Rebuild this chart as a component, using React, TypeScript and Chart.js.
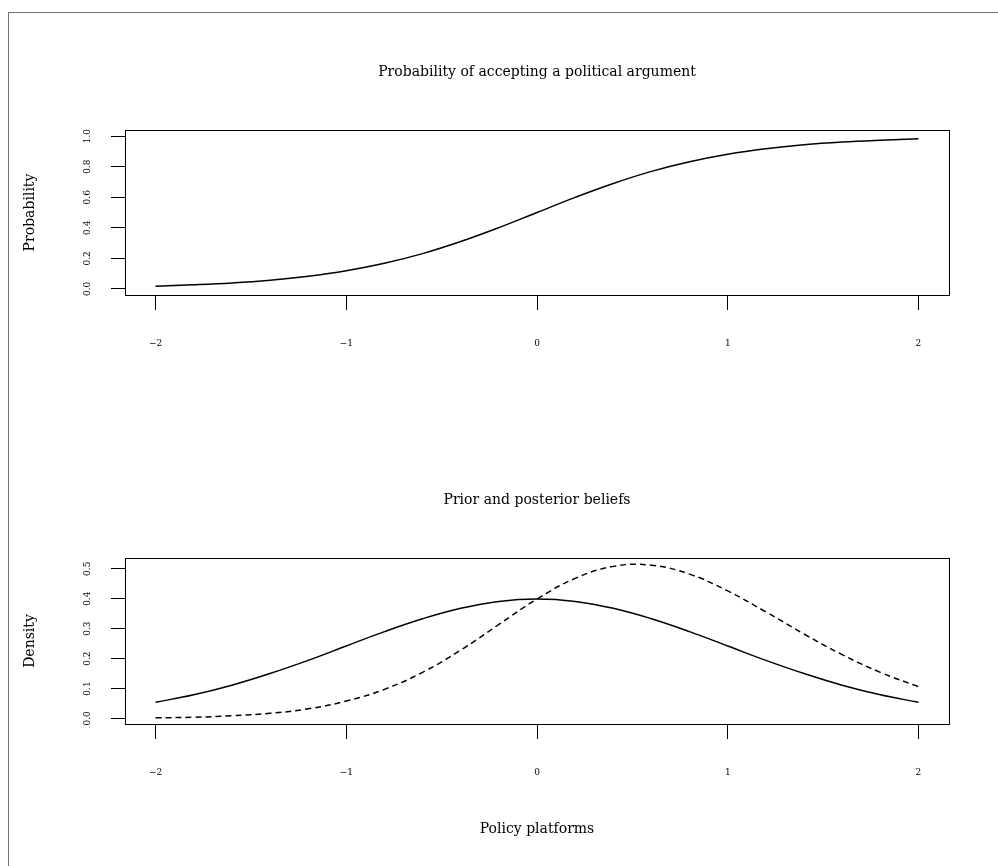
import React, { useEffect, useRef } from 'react';
import { Chart, registerables } from 'chart.js';

Chart.register(...registerables);

// ---- data ----
const xGrid = [-2, -1.8, -1.6, -1.4, -1.2, -1, -0.8, -0.6, -0.4, -0.2, 0, 0.2, 0.4, 0.6, 0.8, 1, 1.2, 1.4, 1.6, 1.8, 2];
const acceptProb = [0.018, 0.027, 0.039, 0.057, 0.083, 0.119, 0.168, 0.231, 0.31, 0.401, 0.5, 0.599, 0.69, 0.769, 0.832, 0.881, 0.917, 0.943, 0.961, 0.973, 0.982];
const priorDensity = [0.054, 0.079, 0.111, 0.15, 0.194, 0.242, 0.29, 0.333, 0.368, 0.391, 0.399, 0.391, 0.368, 0.333, 0.29, 0.242, 0.194, 0.15, 0.111, 0.079, 0.054];
const posteriorDensity = [0.002, 0.004, 0.009, 0.017, 0.032, 0.058, 0.097, 0.154, 0.228, 0.314, 0.399, 0.468, 0.508, 0.512, 0.482, 0.426, 0.356, 0.282, 0.213, 0.154, 0.106];

const xTicks = [-2, -1, 0, 1, 2];
const xTickLabels = ['\u22122', '\u22121', '0', '1', '2'];
const probTicks = [0, 0.2, 0.4, 0.6, 0.8, 1.0];
const probTickLabels = ['0.0', '0.2', '0.4', '0.6', '0.8', '1.0'];
const densTicks = [0, 0.1, 0.2, 0.3, 0.4, 0.5];
const densTickLabels = ['0.0', '0.1', '0.2', '0.3', '0.4', '0.5'];

const topTitle = 'Probability of accepting a political argument';
const topYLabel = 'Probability';
const bottomTitle = 'Prior and posterior beliefs';
const bottomYLabel = 'Density';
const bottomXLabel = 'Policy platforms';

const FONT = '"DejaVu Serif", serif';

const decor = {
  id: 'decor',
  afterDraw(chart: any, _args: any, opts: any) {
    const { ctx, chartArea: a, scales } = chart;
    ctx.save();
    ctx.strokeStyle = '#000';
    ctx.lineWidth = 1;
    ctx.strokeRect(Math.round(a.left) + 0.5, Math.round(a.top) + 0.5, Math.round(a.right - a.left), Math.round(a.bottom - a.top));
    ctx.fillStyle = '#000';
    ctx.textAlign = 'center';
    ctx.textBaseline = 'alphabetic';
    ctx.font = '9px ' + FONT;
    (opts.yTicks as number[]).forEach((v, i) => {
      const y = scales.y.getPixelForValue(v);
      ctx.save();
      ctx.translate(opts.yTickX, y);
      ctx.rotate(-Math.PI / 2);
      ctx.fillText(opts.yTickLabels[i], 0, 0);
      ctx.restore();
    });
    const cx = (a.left + a.right) / 2;
    const cy = (a.top + a.bottom) / 2;
    ctx.font = '14px ' + FONT;
    ctx.fillText(opts.title, cx, opts.titleY);
    ctx.save();
    ctx.translate(opts.yLabelX, cy);
    ctx.rotate(-Math.PI / 2);
    ctx.fillText(opts.yLabel, 0, 0);
    ctx.restore();
    if (opts.xLabel) ctx.fillText(opts.xLabel, cx, opts.xLabelY);
    ctx.restore();
  },
};

function makeConfig(p: any): any {
  return {
    type: 'line',
    data: {
      datasets: p.series.map((s: any) => ({
        data: xGrid.map((x, i) => ({ x, y: s.values[i] })),
        borderColor: '#000',
        borderWidth: 1.5,
        borderDash: s.dash,
        pointRadius: 0,
        fill: false,
        tension: 0.4,
      })),
    },
    options: {
      responsive: false,
      animation: false,
      events: [],
      layout: { padding: { left: 0, right: 49, top: p.padTop, bottom: 0 } },
      plugins: {
        legend: { display: false },
        tooltip: { enabled: false },
        title: { display: false },
        decor: {
          title: p.title,
          titleY: p.titleY,
          yLabel: p.yLabel,
          yLabelX: 34,
          xLabel: p.xLabel,
          xLabelY: p.xLabelY,
          yTicks: p.yTicks,
          yTickLabels: p.yTickLabels,
          yTickX: 90,
        },
      },
      scales: {
        x: {
          type: 'linear',
          min: -2.16,
          max: 2.16,
          border: { display: false },
          grid: { display: true, drawOnChartArea: false, drawTicks: true, tickLength: 15, color: '#000', tickColor: '#000', tickWidth: 1 },
          ticks: {
            color: '#000',
            font: { family: FONT, size: 9 },
            padding: 28,
            maxRotation: 0,
            autoSkip: false,
            callback: (v: number) => {
              const i = xTicks.indexOf(v);
              return i >= 0 ? xTickLabels[i] : '';
            },
          },
          afterBuildTicks: (s: any) => {
            s.ticks = xTicks.map((v) => ({ value: v }));
          },
          afterFit: (s: any) => {
            s.height = p.xAxisHeight;
          },
        },
        y: {
          type: 'linear',
          min: p.yMin,
          max: p.yMax,
          border: { display: false },
          grid: { display: true, drawOnChartArea: false, drawTicks: true, tickLength: 14, color: '#000', tickColor: '#000', tickWidth: 1 },
          ticks: { display: false },
          afterBuildTicks: (s: any) => {
            s.ticks = (p.yTicks as number[]).map((v) => ({ value: v }));
          },
          afterFit: (s: any) => {
            s.width = 125;
          },
        },
      },
    },
    plugins: [decor],
  };
}

export default function App() {
  const topRef = useRef<HTMLCanvasElement>(null);
  const botRef = useRef<HTMLCanvasElement>(null);

  useEffect(() => {
    const c1 = new Chart(topRef.current as HTMLCanvasElement, makeConfig({
      series: [{ values: acceptProb, dash: [] }],
      padTop: 130,
      xAxisHeight: 138,
      yMin: -0.04,
      yMax: 1.04,
      yTicks: probTicks,
      yTickLabels: probTickLabels,
      title: topTitle,
      titleY: 76,
      yLabel: topYLabel,
    }));
    const c2 = new Chart(botRef.current as HTMLCanvasElement, makeConfig({
      series: [
        { values: priorDensity, dash: [] },
        { values: posteriorDensity, dash: [6, 4] },
      ],
      padTop: 125,
      xAxisHeight: 142,
      yMin: -0.0186,
      yMax: 0.536,
      yTicks: densTicks,
      yTickLabels: densTickLabels,
      title: bottomTitle,
      titleY: 71,
      yLabel: bottomYLabel,
      xLabel: bottomXLabel,
      xLabelY: 400,
    }));
    return () => {
      c1.destroy();
      c2.destroy();
    };
  }, []);

  return (
    <div style={{ position: 'absolute', left: 0, top: 0, width: 998, height: 866, overflow: 'hidden', background: '#fff' }}>
      <div style={{ position: 'absolute', left: 8, top: 12, width: 1200, height: 1200, borderTop: '1px solid #707070', borderLeft: '1px solid #707070' }} />
      <canvas ref={topRef} width={998} height={433} style={{ position: 'absolute', left: 0, top: 0, width: 998, height: 433 }} />
      <canvas ref={botRef} width={998} height={433} style={{ position: 'absolute', left: 0, top: 433, width: 998, height: 433 }} />
    </div>
  );
}
